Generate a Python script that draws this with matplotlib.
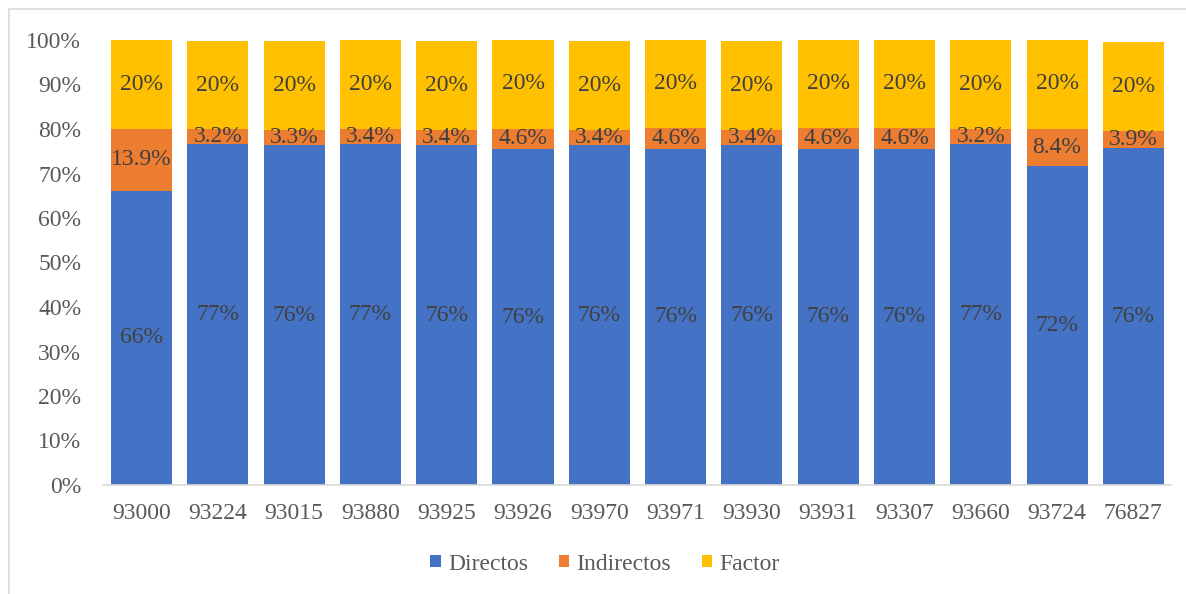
import matplotlib
matplotlib.use("Agg")
import matplotlib.pyplot as plt
from matplotlib.patches import Rectangle
import numpy as np

categories = ["93000", "93224", "93015", "93880", "93925", "93926", "93970",
              "93971", "93930", "93931", "93307", "93660", "93724", "76827"]
directos = [66.1, 76.7, 76.4, 76.6, 76.3, 75.5, 76.4, 75.6, 76.4, 75.6, 75.6, 76.7, 71.7, 75.7]
indirectos = [13.9, 3.2, 3.3, 3.4, 3.4, 4.6, 3.4, 4.6, 3.4, 4.6, 4.6, 3.2, 8.4, 3.9]
factor = [20.0, 19.9, 20.0, 20.0, 20.0, 20.1, 20.0, 20.0, 20.0, 20.0, 20.0, 20.0, 20.1, 20.0]
series_names = ["Directos", "Indirectos", "Factor"]
colors = ["#4472C4", "#ED7D31", "#FFC000"]
yticks = [0, 10, 20, 30, 40, 50, 60, 70, 80, 90, 100]

plt.rcParams["font.family"] = ["Liberation Serif", "DejaVu Serif"]

W, H = 1186, 594
fig = plt.figure(figsize=(W / 100, H / 100), dpi=100)
ax = fig.add_axes([103.4 / W, 1 - 485 / H, (1171.5 - 103.4) / W, 445 / H])

x = np.arange(len(categories))
d = np.array(directos)
i = np.array(indirectos)
f = np.array(factor)

b1 = ax.bar(x, d, width=0.8, color=colors[0], label=series_names[0], zorder=2)
b2 = ax.bar(x, i, width=0.8, bottom=d, color=colors[1], label=series_names[1], zorder=2)
b3 = ax.bar(x, f, width=0.8, bottom=d + i, color=colors[2], label=series_names[2], zorder=2)

lab_kw = dict(ha="center", va="center", fontsize=17, color="#404040", zorder=3)
for k in range(len(categories)):
    ax.text(x[k], d[k] / 2, f"{d[k]:.0f}%", **lab_kw)
    ax.text(x[k], d[k] + i[k] / 2, f"{i[k]:.1f}%", **lab_kw)
    ax.text(x[k], d[k] + i[k] + f[k] / 2, f"{f[k]:.0f}%", **lab_kw)

ax.set_xlim(-0.5, len(categories) - 0.5)
ax.set_ylim(0, 100)
ax.set_yticks(yticks)
ax.set_yticklabels([f"{t}%" for t in yticks])
ax.set_xticks(x)
ax.set_xticklabels(categories)
ax.tick_params(axis="both", length=0, labelsize=17, labelcolor="#595959")
ax.tick_params(axis="y", pad=16)
ax.tick_params(axis="x", pad=13)
for s in ["top", "right", "left"]:
    ax.spines[s].set_visible(False)
ax.spines["bottom"].set_color("#D9D9D9")
ax.spines["bottom"].set_linewidth(1.2)

leg = fig.legend(handles=[b1, b2, b3], labels=series_names, loc="center",
                 bbox_to_anchor=(605 / W, 1 - 564 / H), ncol=3, frameon=False,
                 fontsize=17, handlelength=0.45, handleheight=0.45,
                 handletextpad=0.3, columnspacing=1.3)
for t in leg.get_texts():
    t.set_color("#595959")

fig.patches.append(Rectangle((9 / W, -0.1), 1.2, 1 - 9 / H + 0.1, transform=fig.transFigure,
                             fill=False, edgecolor="#D9D9D9", linewidth=1.2))

fig.savefig("out.png", dpi=100)
